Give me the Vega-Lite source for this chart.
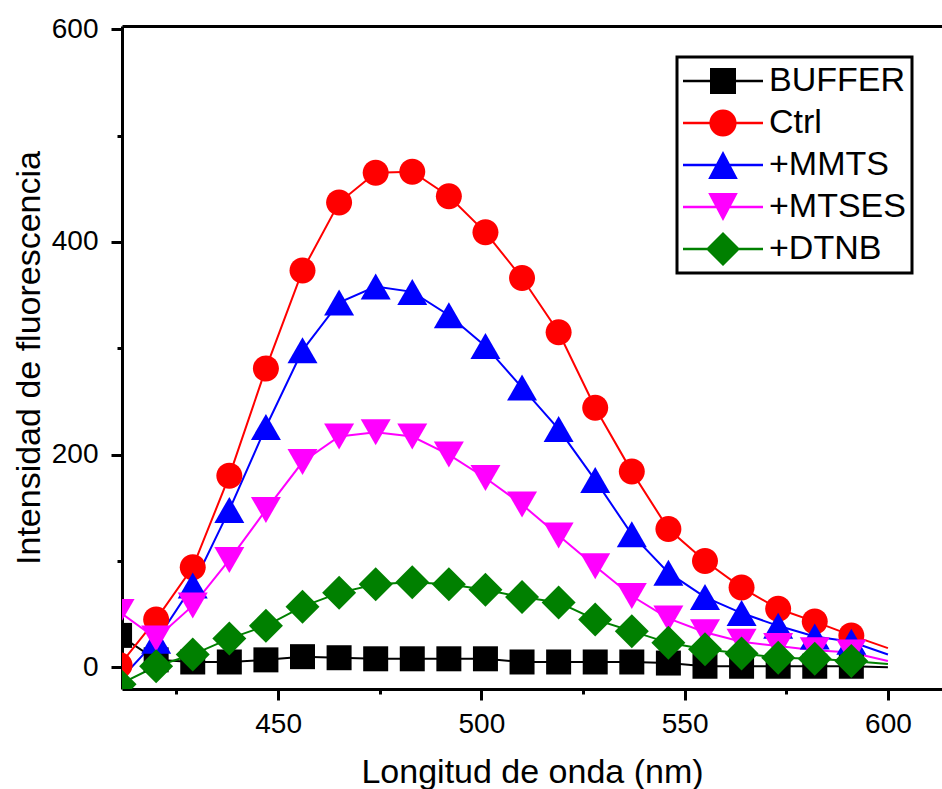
{
"$schema":"https://vega.github.io/schema/vega-lite/v6.json",
"autosize":{"type":"none"},
"width":820,"height":663,
"padding":{"left":122,"top":26,"right":0,"bottom":100},
"background":"white",
"config":{"view":{"stroke":null},"font":"Liberation Sans","axis":{"grid":false,"domainColor":"black","domainWidth":3,"tickColor":"black","labelColor":"black","titleColor":"black","labelFont":"Liberation Sans","titleFont":"Liberation Sans","titleFontWeight":"normal","labelFontSize":28,"titleFontSize":34}},
"data":{"values":[
{"s":"BUFFER","x":411,"y":30},{"s":"BUFFER","x":420,"y":7},{"s":"BUFFER","x":429,"y":5},{"s":"BUFFER","x":438,"y":5},{"s":"BUFFER","x":447,"y":7},{"s":"BUFFER","x":456,"y":10},{"s":"BUFFER","x":465,"y":9},{"s":"BUFFER","x":474,"y":8},{"s":"BUFFER","x":483,"y":8},{"s":"BUFFER","x":492,"y":8},{"s":"BUFFER","x":501,"y":8},{"s":"BUFFER","x":510,"y":5},{"s":"BUFFER","x":519,"y":5},{"s":"BUFFER","x":528,"y":5},{"s":"BUFFER","x":537,"y":5},{"s":"BUFFER","x":546,"y":4},{"s":"BUFFER","x":555,"y":1},{"s":"BUFFER","x":564,"y":1},{"s":"BUFFER","x":573,"y":1},{"s":"BUFFER","x":582,"y":1},{"s":"BUFFER","x":591,"y":1},{"s":"BUFFER","x":600,"y":0},
{"s":"Ctrl","x":411,"y":2},{"s":"Ctrl","x":420,"y":45},{"s":"Ctrl","x":429,"y":94},{"s":"Ctrl","x":438,"y":180},{"s":"Ctrl","x":447,"y":281},{"s":"Ctrl","x":456,"y":373},{"s":"Ctrl","x":465,"y":437},{"s":"Ctrl","x":474,"y":465},{"s":"Ctrl","x":483,"y":466},{"s":"Ctrl","x":492,"y":443},{"s":"Ctrl","x":501,"y":409},{"s":"Ctrl","x":510,"y":366},{"s":"Ctrl","x":519,"y":315},{"s":"Ctrl","x":528,"y":244},{"s":"Ctrl","x":537,"y":184},{"s":"Ctrl","x":546,"y":130},{"s":"Ctrl","x":555,"y":100},{"s":"Ctrl","x":564,"y":75},{"s":"Ctrl","x":573,"y":55},{"s":"Ctrl","x":582,"y":43},{"s":"Ctrl","x":591,"y":30},{"s":"Ctrl","x":600,"y":18},
{"s":"+MMTS","x":411,"y":-12},{"s":"+MMTS","x":420,"y":25},{"s":"+MMTS","x":429,"y":77},{"s":"+MMTS","x":438,"y":148},{"s":"+MMTS","x":447,"y":226},{"s":"+MMTS","x":456,"y":298},{"s":"+MMTS","x":465,"y":343},{"s":"+MMTS","x":474,"y":358},{"s":"+MMTS","x":483,"y":353},{"s":"+MMTS","x":492,"y":331},{"s":"+MMTS","x":501,"y":302},{"s":"+MMTS","x":510,"y":263},{"s":"+MMTS","x":519,"y":224},{"s":"+MMTS","x":528,"y":176},{"s":"+MMTS","x":537,"y":125},{"s":"+MMTS","x":546,"y":89},{"s":"+MMTS","x":555,"y":66},{"s":"+MMTS","x":564,"y":51},{"s":"+MMTS","x":573,"y":39},{"s":"+MMTS","x":582,"y":29},{"s":"+MMTS","x":591,"y":24},{"s":"+MMTS","x":600,"y":12},
{"s":"+MTSES","x":411,"y":52},{"s":"+MTSES","x":420,"y":27},{"s":"+MTSES","x":429,"y":58},{"s":"+MTSES","x":438,"y":101},{"s":"+MTSES","x":447,"y":148},{"s":"+MTSES","x":456,"y":193},{"s":"+MTSES","x":465,"y":217},{"s":"+MTSES","x":474,"y":221},{"s":"+MTSES","x":483,"y":217},{"s":"+MTSES","x":492,"y":200},{"s":"+MTSES","x":501,"y":178},{"s":"+MTSES","x":510,"y":153},{"s":"+MTSES","x":519,"y":124},{"s":"+MTSES","x":528,"y":95},{"s":"+MTSES","x":537,"y":67},{"s":"+MTSES","x":546,"y":46},{"s":"+MTSES","x":555,"y":33},{"s":"+MTSES","x":564,"y":24},{"s":"+MTSES","x":573,"y":20},{"s":"+MTSES","x":582,"y":16},{"s":"+MTSES","x":591,"y":14},{"s":"+MTSES","x":600,"y":6},
{"s":"+DTNB","x":411,"y":-16},{"s":"+DTNB","x":420,"y":1},{"s":"+DTNB","x":429,"y":12},{"s":"+DTNB","x":438,"y":27},{"s":"+DTNB","x":447,"y":39},{"s":"+DTNB","x":456,"y":57},{"s":"+DTNB","x":465,"y":70},{"s":"+DTNB","x":474,"y":78},{"s":"+DTNB","x":483,"y":80},{"s":"+DTNB","x":492,"y":78},{"s":"+DTNB","x":501,"y":73},{"s":"+DTNB","x":510,"y":66},{"s":"+DTNB","x":519,"y":61},{"s":"+DTNB","x":528,"y":45},{"s":"+DTNB","x":537,"y":34},{"s":"+DTNB","x":546,"y":23},{"s":"+DTNB","x":555,"y":17},{"s":"+DTNB","x":564,"y":13},{"s":"+DTNB","x":573,"y":9},{"s":"+DTNB","x":582,"y":8},{"s":"+DTNB","x":591,"y":6},{"s":"+DTNB","x":600,"y":3}
]},
"encoding":{
 "x":{"field":"x","type":"quantitative","scale":{"domain":[411.6,613.3],"nice":false,"zero":false},
   "axis":{"orient":"bottom","values":[425,450,475,500,525,550,575,600],"labelExpr":"datum.value % 50 === 0 ? datum.label : ''","tickSize":{"condition":{"test":"datum.value % 50 === 0","value":11},"value":5},"tickWidth":3,"labelPadding":10,"labelFlush":false,"labelOverlap":false,"title":"Longitud de onda (nm)","titlePadding":17}},
 "y":{"field":"y","type":"quantitative","scale":{"domain":[-20.4,603],"nice":false,"zero":false},
   "axis":{"values":[0,100,200,300,400,500,600],"labelExpr":"datum.value % 200 === 0 ? datum.label : ''","tickSize":{"condition":{"test":"datum.value % 200 === 0","value":11},"value":5},"tickWidth":3,"labelPadding":13,"labelOverlap":false,"labelFlush":false,"title":"Intensidad de fluorescencia","titlePadding":5}},
 "color":{"field":"s","type":"nominal","scale":{"domain":["BUFFER","Ctrl","+MMTS","+MTSES","+DTNB"],"range":["#000000","#ff0000","#0000ff","#ff00ff","#008000"]},
   "legend":{"orient":"none","legendX":555,"legendY":31,"title":null,"symbolSize":6400,"clipHeight":36,"labelFontSize":34,"labelFont":"Liberation Sans","labelColor":"black","labelOffset":6,"rowPadding":6,"padding":6,"fillColor":"white","strokeColor":"black","labelLimit":0,
     "encode":{"legend":{"update":{"strokeWidth":{"value":3}}},
       "symbols":{"update":{"shape":{"signal":"datum.value === 'BUFFER' ? 'M-1,-0.03H1V0.03H-1ZM-0.325,-0.325H0.325V0.325H-0.325Z' : datum.value === 'Ctrl' ? 'M-1,-0.03H1V0.03H-1ZM-0.34,0A0.34,0.34 0 1,1 0.34,0A0.34,0.34 0 1,1 -0.34,0Z' : datum.value === '+MMTS' ? 'M-1,-0.03H1V0.03H-1ZM0,-0.35L0.37,0.35H-0.37Z' : datum.value === '+MTSES' ? 'M-1,-0.03H1V0.03H-1ZM-0.37,-0.35H0.37L0,0.35Z' : 'M-1,-0.03H1V0.03H-1ZM0,-0.425L0.425,0L0,0.425L-0.425,0Z'"},"fill":{"scale":"color","field":"value"},"stroke":{"value":"transparent"},"strokeWidth":{"value":0},"opacity":{"value":1}}}}}}
},
"layer":[
 {"mark":{"type":"line","strokeWidth":2,"clip":true}},
 {"transform":[{"filter":"datum.x < 600"}],
  "mark":{"type":"point","filled":true,"opacity":1,"size":1600,"clip":true,"strokeWidth":0},
  "encoding":{
   "x":{"field":"x","type":"quantitative","scale":{"domain":[411.6,613.3],"nice":false,"zero":false},"axis":{"orient":"top","labels":false,"ticks":false,"title":null,"domainWidth":3,"domainColor":"black"}},
   "shape":{"field":"s","type":"nominal","scale":{"domain":["+DTNB","+MTSES","+MMTS","Ctrl","BUFFER"],"range":["M0,-0.85L0.85,0L0,0.85L-0.85,0Z","M-0.75,-0.65H0.75L0,0.65Z","M0,-0.65L0.75,0.65H-0.75Z","M-0.65,0A0.65,0.65 0 1,1 0.65,0A0.65,0.65 0 1,1 -0.65,0Z","M-0.625,-0.625H0.625V0.625H-0.625Z"]},"legend":null}}}
],
"resolve":{"axis":{"x":"independent"}}
}
